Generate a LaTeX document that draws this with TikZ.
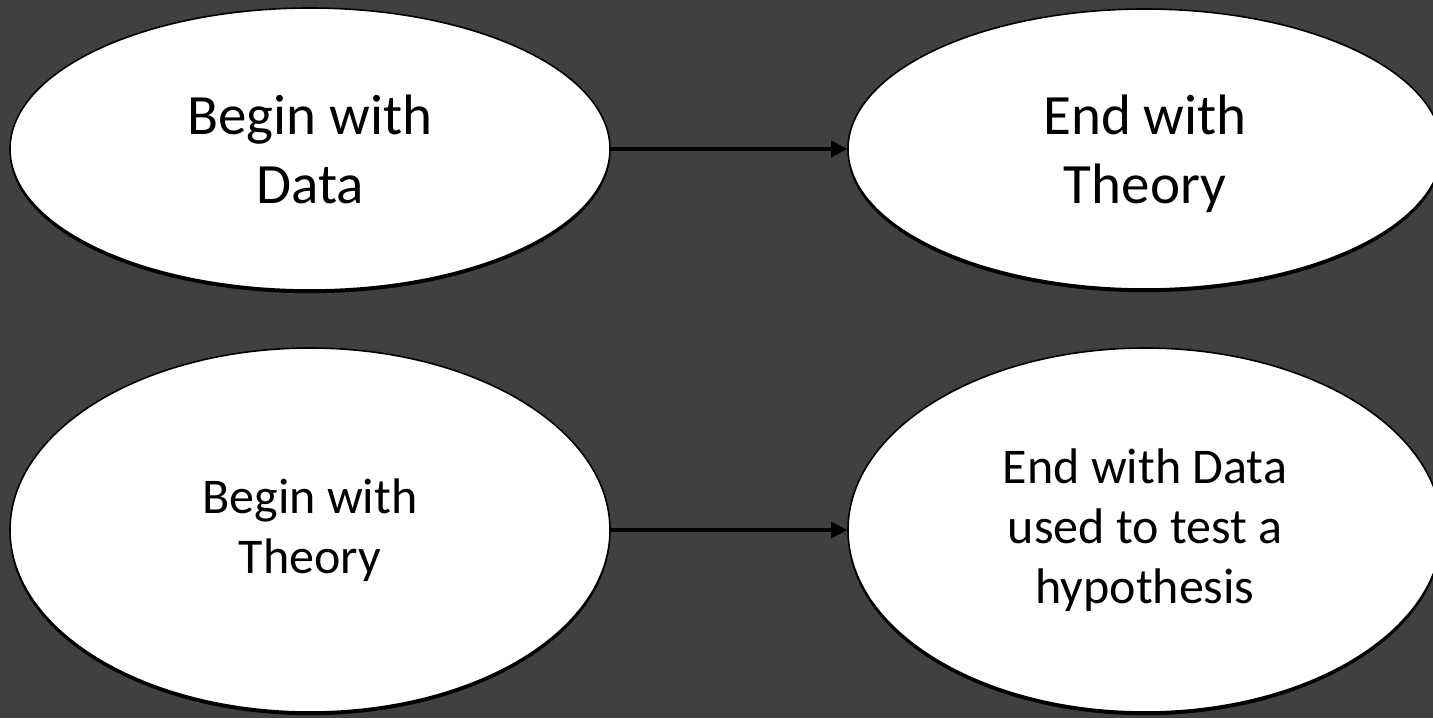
\documentclass[tikz,border=0pt]{standalone}
\usepackage{fontspec}
\setmainfont{Carlito}
\usetikzlibrary{shapes.geometric,shadows,arrows.meta}
\definecolor{bg}{RGB}{64,64,64}
\begin{document}
\begin{tikzpicture}[x=0.5pt,y=-0.5pt,
  oval/.style={ellipse, draw=black, line width=0.8pt, fill=white, inner sep=0pt, align=center,
    drop shadow={shadow xshift=0pt, shadow yshift=-1.6pt, fill=black, opacity=1}},
  bigtext/.style={font=\fontsize{28.5pt}{34.5pt}\selectfont},
  smalltext/.style={font=\fontsize{25pt}{30pt}\selectfont},
  link/.style={draw=black, line width=1.7pt, -{Triangle[length=8pt,width=8pt]}}]
\fill[bg] (0,0) rectangle (1433,718);
\useasboundingbox (0,0) rectangle (1433,718);
\node[oval, bigtext, minimum width=300pt, minimum height=141pt] (e1) at (310,149) {Begin with\\Data};
\node[oval, bigtext, minimum width=297pt, minimum height=140pt] (e2) at (1145,149) {End with\\\raisebox{0pt}[\height][0pt]{Theory}};
\node[oval, smalltext, minimum width=300pt, minimum height=182pt] (e3) at (310,530) {Begin with\\Theory};
\node[oval, smalltext, minimum width=297pt, minimum height=182pt] (e4) at (1145,530) {End with Data\\used to test a\\hypothesis};
\draw[link] (e1) -- (e2);
\draw[link] (e3) -- (e4);
\end{tikzpicture}
\end{document}
